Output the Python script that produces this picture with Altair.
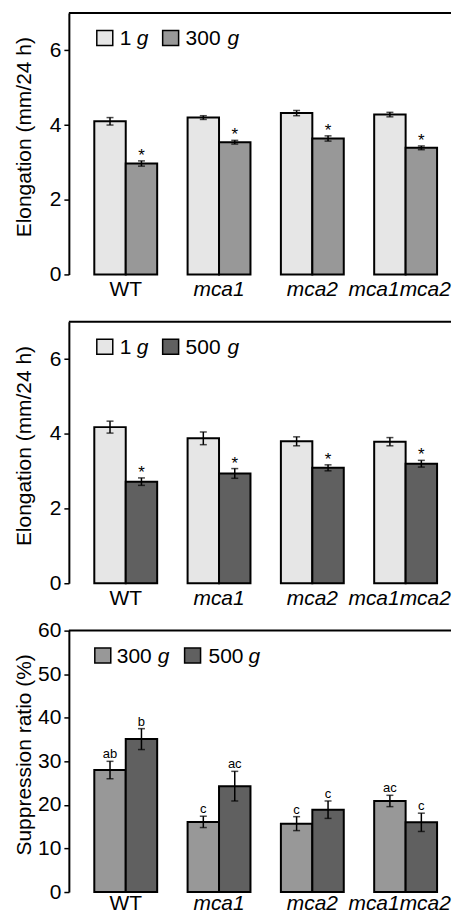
import altair as alt
import pandas as pd

genotypes = ["WT", "mca1", "mca2", "mca1mca2"]

# Panel 1: 1 g vs 300 g
p1_conds = ["1 g", "300 g"]
p1_1g = [4.10, 4.20, 4.32, 4.28]
p1_1g_err = [0.10, 0.05, 0.07, 0.06]
p1_300g = [2.97, 3.54, 3.64, 3.39]
p1_300g_err = [0.07, 0.05, 0.07, 0.05]

# Panel 2: 1 g vs 500 g
p2_conds = ["1 g", "500 g"]
p2_1g = [4.18, 3.88, 3.80, 3.79]
p2_1g_err = [0.16, 0.17, 0.12, 0.11]
p2_500g = [2.72, 2.94, 3.09, 3.20]
p2_500g_err = [0.10, 0.13, 0.08, 0.09]

# Panel 3: suppression ratio
p3_conds = ["300 g", "500 g"]
p3_300g = [28.0, 16.1, 15.7, 20.9]
p3_300g_err = [2.0, 1.3, 1.6, 1.3]
p3_500g = [35.1, 24.3, 18.9, 16.0]
p3_500g_err = [2.4, 3.4, 2.0, 2.1]
p3_300g_letters = ["ab", "c", "c", "ac"]
p3_500g_letters = ["b", "ac", "c", "c"]
star = ["*", "*", "*", "*"]
blank = ["", "", "", ""]

colors = {"1 g": "#e6e6e6", "300 g": "#989898", "500 g": "#606060"}

W = 383
H = 262
FONT = "Liberation Sans"


def make_df(conds, a, ae, b, be, la, lb):
    rows = []
    for i, g in enumerate(genotypes):
        rows.append(dict(genotype=g, slot="A", cond=conds[0], color=colors[conds[0]],
                         mean=a[i], err=ae[i], label=la[i]))
        rows.append(dict(genotype=g, slot="B", cond=conds[1], color=colors[conds[1]],
                         mean=b[i], err=be[i], label=lb[i]))
    df = pd.DataFrame(rows)
    df["lo"] = df["mean"] - df["err"]
    df["hi"] = df["mean"] + df["err"]
    return df


one = pd.DataFrame({"k": [0]})


def panel(df, conds, ymax, yvals, ytitle, label_size, label_dy, leg, xpad):
    xenc = alt.X(
        "genotype:N",
        sort=genotypes,
        scale=alt.Scale(paddingInner=0.326, paddingOuter=0.211, align=0.646),
        axis=alt.Axis(
            title=None, labelAngle=0, domain=False, ticks=False,
            labelFont=FONT, labelFontSize=21, labelColor="black", labelPadding=xpad,
            labelFontStyle={"condition": {"test": "datum.value == 'WT'", "value": "normal"}, "value": "italic"},
            labelOffset={"condition": {"test": "datum.value == 'mca1mca2'", "value": -6}, "value": 0},
            labelOverlap=False,
        ),
    )
    xplain = alt.X("genotype:N", sort=genotypes)
    xoff = alt.XOffset("slot:N", sort=["A", "B"], scale=alt.Scale(paddingInner=0, paddingOuter=0))
    yscale = alt.Scale(domain=[0, ymax], nice=False, zero=True)
    yaxis = alt.Axis(
        title=ytitle, values=yvals,
        grid=False, domainColor="black", domainWidth=2, tickColor="black", tickWidth=1.5, tickSize=5,
        labelFont=FONT, labelFontSize=21, labelColor="black", labelPadding=3,
        titleFont=FONT, titleFontSize=21, titleFontWeight="normal", titleColor="black",
        titleX=-44, titleY=124, titleAngle=-90, titleBaseline="middle", titleAlign="center",
    )
    base = alt.Chart(df)
    bars = base.mark_bar(stroke="black", strokeWidth=2).encode(
        x=xenc, xOffset=xoff,
        y=alt.Y("mean:Q", scale=yscale, axis=yaxis),
        fill=alt.Fill("color:N", scale=None),
    )
    rule = base.mark_rule(color="black", strokeWidth=1.5).encode(
        x=xplain, xOffset=xoff, y="lo:Q", y2="hi:Q")
    cap_lo = base.mark_tick(color="black", thickness=1.5, size=7, orient="horizontal").encode(
        x=xplain, xOffset=xoff, y="lo:Q")
    cap_hi = base.mark_tick(color="black", thickness=1.5, size=7, orient="horizontal").encode(
        x=xplain, xOffset=xoff, y="hi:Q")
    txt = base.mark_text(font=FONT, fontSize=label_size, color="black", baseline="alphabetic",
                         align="center", dy=label_dy).encode(
        x=xplain, xOffset=xoff, y="hi:Q", text="label:N")
    top = alt.Chart(one).mark_rule(color="black", strokeWidth=2).encode(
        x=alt.value(0), x2=alt.value(W), y=alt.value(0))
    sq_x, num_x, g_x = leg
    leg_items = []
    for i, c in enumerate(conds):
        num = c.split(" ")[0]
        leg_items.append(alt.Chart(one).mark_rect(fill=colors[c], stroke="black", strokeWidth=1.5).encode(
            x=alt.value(sq_x[i]), x2=alt.value(sq_x[i] + 16), y=alt.value(17.5), y2=alt.value(32.5)))
        leg_items.append(alt.Chart(one).mark_text(font=FONT, fontSize=21, align="left", baseline="alphabetic",
                                                   color="black", text=num).encode(
            x=alt.value(num_x[i]), y=alt.value(32)))
        leg_items.append(alt.Chart(one).mark_text(font=FONT, fontSize=21, fontStyle="italic", align="left",
                                                   baseline="alphabetic", color="black", text="g").encode(
            x=alt.value(g_x[i]), y=alt.value(32)))
    return alt.layer(bars, rule, cap_lo, cap_hi, txt, top, *leg_items).properties(width=W, height=H)


df1 = make_df(p1_conds, p1_1g, p1_1g_err, p1_300g, p1_300g_err, blank, star)
df2 = make_df(p2_conds, p2_1g, p2_1g_err, p2_500g, p2_500g_err, blank, star)
df3 = make_df(p3_conds, p3_300g, p3_300g_err, p3_500g, p3_500g_err, p3_300g_letters, p3_500g_letters)

leg12 = ([28, 94], [51, 117], [68, 159])
leg3 = ([26, 116], [48, 140], [89, 180])

c1 = panel(df1, p1_conds, 7, [0, 2, 4, 6], "Elongation (mm/24 h)", 17, 0, leg12, 4)
c2 = panel(df2, p2_conds, 7, [0, 2, 4, 6], "Elongation (mm/24 h)", 17, 0, leg12, 4)
c3 = panel(df3, p3_conds, 60, [0, 10, 20, 30, 40, 50, 60], "Suppression ratio (%)", 13, -3, leg3, 1)

chart = alt.vconcat(c1, c2, c3, spacing=47.5, bounds="flush").properties(
    padding={"left": 5, "top": 3, "right": 0, "bottom": 0},
).configure_view(stroke=None)

chart.save("out.html", embed_options={"renderer": "svg", "actions": False})
